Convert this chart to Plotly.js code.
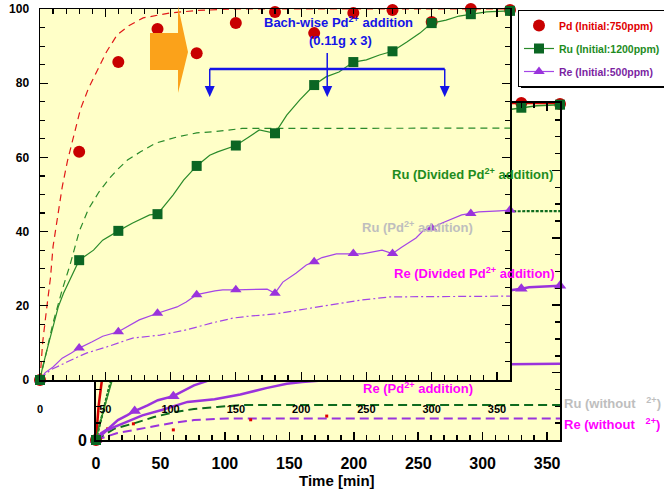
<!DOCTYPE html>
<html><head><meta charset="utf-8">
<script src="https://cdn.plot.ly/plotly-3.0.1.min.js"></script>
<style>html,body{margin:0;padding:0;background:#fff}#chart{width:664px;height:494px}</style>
</head><body><div id="chart"></div>
<script>
// ---------- data ----------
const TIME_TICKS = [0, 50, 100, 150, 200, 250, 300, 350];
const PCT_TICKS = [0, 20, 40, 60, 80, 100];

const SAMPLE_T = [0, 30, 60, 90, 120, 150, 180, 210, 240, 270, 300, 330, 360];
const PD_DIV = [0, 61.5, 85.7, 94.6, 88.1, 96.2, 99.2, 93.5, 98.9, 99.7, 96.5, 100, 99.7];
const RU_DIV = [0, 32.3, 40.2, 44.7, 57.7, 63.2, 66.5, 79.5, 85.7, 88.6, 96.2, 98.6, 99.5];
const RE_DIV = [0, 8.6, 13, 18, 23, 24.3, 23.4, 31.9, 34.1, 34.1, 41, 44.9, 45.8];

const RU_LINE_T = [2, 6, 10, 14, 18, 23, 41, 48, 71, 84, 102, 110, 130, 136, 160, 168, 189, 199, 219, 229, 250, 260, 281, 291, 311, 321, 342];
const RU_LINE_V = [3.5, 9, 14.3, 19.7, 23.4, 27, 35, 37.7, 42.3, 44.5, 49.9, 53.9, 60.6, 61.5, 65.5, 67.4, 71.4, 75.5, 81.7, 83, 86.3, 87.6, 91.1, 93.5, 97, 98.1, 99.2];
const RE_LINE_T = [4, 10, 17, 24, 40, 48, 76, 105, 112, 134, 140, 165, 174, 186, 196, 204, 216, 227, 247, 262, 277, 288, 294, 308, 323, 336, 352];
const RE_LINE_V = [2, 3.5, 5.9, 7.3, 10.3, 11.8, 16.2, 19.7, 21, 24, 24.3, 24.5, 24.5, 26.4, 28.8, 31, 33, 34, 34, 35, 35.8, 38.3, 40.4, 42.3, 44.5, 45.3, 45.6];

const PD_SINGLE_T = [0, 2, 5, 8, 10, 14, 17, 21, 26, 31, 37, 44, 51, 59, 68, 79, 99, 120, 150, 360];
const PD_SINGLE_V = [0, 10, 19, 27.5, 36, 45, 52, 59, 66, 73, 78.5, 83.6, 88.5, 93, 95.5, 97.6, 98.9, 99.6, 100, 100];
const RU_SINGLE_T = [0, 5, 10, 17, 23, 30, 37, 45, 54, 59, 67, 77, 89, 105, 120, 135, 155, 360];
const RU_SINGLE_V = [0, 7.3, 15.4, 24.3, 31, 40, 46, 50.6, 54.7, 56.6, 59.3, 61.5, 63.9, 65.5, 66.6, 67, 67.8, 67.9];
const RE_SINGLE_T = [0, 4, 8, 14, 21, 30, 36, 51, 71, 92, 112, 132, 148, 160, 180, 199, 222, 245, 268, 300, 360];
const RE_SINGLE_V = [0, 1.5, 2.7, 3.8, 4.9, 6.4, 7.3, 8.9, 11.3, 12.1, 13.5, 15.4, 16.7, 17.2, 17.8, 18.9, 20.2, 21.5, 22.4, 22.5, 22.6];

const RU_WITHOUT_T = [0, 14, 30, 45, 61, 76, 94, 113, 360];
const RU_WITHOUT_V = [0, 3.3, 5, 6.8, 8.3, 9.2, 9.8, 10.4, 10.4];
const RE_WITHOUT_T = [0, 16, 30, 43, 58, 76, 102, 360];
const RE_WITHOUT_V = [0, 2, 3, 3.9, 5, 5.9, 6.4, 6.4];
const PD_WITHOUT_T = [9, 29, 60, 120, 179];
const PD_WITHOUT_V = [3.3, 4.8, 3.0, 6.0, 7.1];

const ADDITION_T = [130, 220, 310];

const LEGEND_NAMES = ['Pd (Initial:750ppm)', 'Ru (Initial:1200ppm)', 'Re (Initial:500ppm)'];

// ---------- helpers ----------
const W = 664, H = 494;
const px = x => x / W;
const py = y => 1 - y / H;
const FONT = 'Liberation Sans, Arial, Helvetica, sans-serif';
const YELLOW = '#FFFFC8';
const BLUE = '#1414E6';
const RED = '#C80000', RED_L = '#E01818';
const GREEN = '#0B6623', GREEN_L = '#2A8A2A', GREEN_D = '#0E6B1E';
const PURPLE = '#9A33DC', PURPLE_L = '#A445E6';

const FRONT_X_PX = [40, 510];
const FRONT_RANGE = [0, 360];
const minPerPx = (FRONT_RANGE[1] - FRONT_RANGE[0]) / (FRONT_X_PX[1] - FRONT_X_PX[0]);

function merge(lineT, lineV, markT, markV) {
  const pts = lineT.map((t, i) => ({t, v: lineV[i], m: false}))
    .concat(markT.map((t, i) => ({t, v: markV[i], m: true})));
  pts.sort((a, b) => a.t - b.t || (a.m ? 1 : -1));
  return {x: pts.map(p => p.t), y: pts.map(p => p.v),
          sel: pts.map((p, i) => p.m ? i : -1).filter(i => i >= 0)};
}
const ruM = merge(RU_LINE_T, RU_LINE_V, SAMPLE_T, RU_DIV);
const reM = merge(RE_LINE_T, RE_LINE_V, SAMPLE_T, RE_DIV);

const back = {xaxis: 'x', yaxis: 'y', showlegend: false, hoverinfo: 'skip'};
const front = {xaxis: 'x2', yaxis: 'y2', hoverinfo: 'skip'};

const traces = [
  // back chart
  Object.assign({x: RU_WITHOUT_T, y: RU_WITHOUT_V, mode: 'lines', line: {color: GREEN_D, width: 2, dash: '9px,5px'}}, back),
  Object.assign({x: RE_WITHOUT_T, y: RE_WITHOUT_V, mode: 'lines', line: {color: PURPLE, width: 2, dash: '9px,5px'}}, back),
  Object.assign({x: PD_WITHOUT_T, y: PD_WITHOUT_V, mode: 'markers', marker: {symbol: 'square', size: 3, color: '#E00000'}}, back),
  Object.assign({x: RE_SINGLE_T, y: RE_SINGLE_V, mode: 'lines', line: {color: PURPLE, width: 2.5}}, back),
  Object.assign({x: reM.x, y: reM.y, mode: 'lines+markers', selectedpoints: reM.sel,
    line: {color: PURPLE, width: 2.5}, marker: {symbol: 'triangle-up', size: 11, color: PURPLE},
    unselected: {marker: {opacity: 0}}, cliponaxis: false}, back),
  Object.assign({x: RU_SINGLE_T, y: RU_SINGLE_V, mode: 'lines', line: {color: GREEN_D, width: 2.2, dash: '3px,1.5px'}}, back),
  Object.assign({x: PD_SINGLE_T, y: PD_SINGLE_V, mode: 'lines', line: {color: '#D40000', width: 2.5}}, back),
  Object.assign({x: SAMPLE_T, y: PD_DIV, mode: 'markers', marker: {symbol: 'circle', size: 12, color: RED}, cliponaxis: false}, back),
  Object.assign({x: ruM.x, y: ruM.y, mode: 'lines+markers', selectedpoints: ruM.sel,
    line: {color: GREEN_L, width: 1.5}, marker: {symbol: 'square', size: 10, color: GREEN},
    unselected: {marker: {opacity: 0}}, cliponaxis: false}, back),
  // front chart
  Object.assign({x: PD_SINGLE_T, y: PD_SINGLE_V, mode: 'lines', showlegend: false, line: {color: RED_L, width: 1.2, dash: '7px,5px'}}, front),
  Object.assign({x: RU_SINGLE_T, y: RU_SINGLE_V, mode: 'lines', showlegend: false, line: {color: GREEN_L, width: 1.2, dash: '7px,5px'}}, front),
  Object.assign({x: RE_SINGLE_T, y: RE_SINGLE_V, mode: 'lines', showlegend: false, line: {color: PURPLE_L, width: 1.2, dash: '8px,3px,2px,3px'}}, front),
  Object.assign({x: SAMPLE_T, y: PD_DIV, mode: 'markers', name: '<span style="color:#E00000">' + LEGEND_NAMES[0] + '</span>',
    legendrank: 1, legendgroup: 'pd',
    marker: {symbol: 'circle', size: 12, color: RED}, cliponaxis: false}, front),
  Object.assign({x: reM.x, y: reM.y, mode: 'lines+markers', selectedpoints: reM.sel,
    name: '<span style="color:#7B1FA2">' + LEGEND_NAMES[2] + '</span>', legendrank: 3, legendgroup: 're',
    line: {color: PURPLE_L, width: 1.2}, marker: {symbol: 'triangle-up', size: 10, color: PURPLE},
    unselected: {marker: {opacity: 0}}, cliponaxis: false}, front),
  Object.assign({x: ruM.x, y: ruM.y, mode: 'lines+markers', selectedpoints: ruM.sel,
    name: '<span style="color:#1E8C1E">' + LEGEND_NAMES[1] + '</span>', legendrank: 2, legendgroup: 'ru',
    line: {color: GREEN_L, width: 1.2}, marker: {symbol: 'square', size: 10, color: GREEN},
    unselected: {marker: {opacity: 0}}, cliponaxis: false}, front)
];

function axis(extra) {
  return Object.assign({
    showline: true, linecolor: '#000', mirror: 'ticks', ticks: 'inside', tickcolor: '#000',
    showgrid: false, zeroline: false, fixedrange: true, tickmode: 'array'
  }, extra);
}

const annFont = (size, color) => ({family: FONT, size: size, color: color, weight: 'bold'});
const txt = (x, y, text, size, color, anchor) => ({xref: 'paper', yref: 'paper', x: px(x), y: py(y),
  text: text, showarrow: false, xanchor: anchor || 'center', yanchor: 'middle', font: annFont(size, color)});

const annotations = [
  txt(338, 22, 'Bach-wise Pd<sup>2+</sup> addition', 13, BLUE),
  txt(340, 41, '(0.11g x 3)', 13, BLUE),
  txt(472, 174, 'Ru (Divided Pd<sup>2+</sup> addition)', 13, '#1E8C1E'),
  txt(418, 227, 'Ru (Pd<sup>2+</sup> addition)', 13, '#BEBEBE'),
  txt(474, 273, 'Re (Divided Pd<sup>2+</sup> addition)', 13, '#FF00FF'),
  txt(418, 388, 'Re (Pd<sup>2+</sup> addition)', 13, '#FF00FF'),
  txt(562, 403, 'Ru (without&#160;&#160;&#160;<sup>2+</sup>)', 13, '#BEBEBE', 'left'),
  txt(562, 424, 'Re (without&#160;&#160;&#160;<sup>2+</sup>)', 13, '#FF00FF', 'left'),
  txt(337, 480, 'Time [min]', 15, '#000')
];

const arrowPts = [[150, 33], [178, 33], [178, 6], [188, 52], [178, 93], [178, 70], [150, 70]];
const arrowPath = 'M ' + arrowPts.map(p => px(p[0]).toFixed(5) + ' ' + py(p[1]).toFixed(5)).join(' L ') + ' Z';

const shapes = [
  {type: 'rect', xref: 'x2', yref: 'y2', x0: 0, x1: 360, y0: 0, y1: 100, fillcolor: YELLOW, line: {width: 0}, layer: 'below'},
  {type: 'rect', xref: 'paper', yref: 'paper', x0: px(521), x1: px(667), y0: py(88), y1: py(13), fillcolor: '#000', line: {width: 0}, layer: 'above'},
  {type: 'path', xref: 'paper', yref: 'paper', path: arrowPath, fillcolor: '#FBA21A', line: {width: 0}, layer: 'above'},
  {type: 'line', xref: 'x2', yref: 'paper', x0: ADDITION_T[0], x1: ADDITION_T[2], y0: py(69), y1: py(69), line: {color: BLUE, width: 2.5}, layer: 'above'}
];
// bracket arrows (drop lines + heads)
const headHalf = 5 * minPerPx;
ADDITION_T.forEach((t, i) => {
  shapes.push({type: 'line', xref: 'x2', yref: 'paper', x0: t, x1: t, y0: py(i === 1 ? 53 : 69), y1: py(88),
               line: {color: BLUE, width: 1.5}, layer: 'above'});
  shapes.push({type: 'path', xref: 'x2', yref: 'paper',
               path: 'M ' + (t - headHalf) + ' ' + py(86) + ' L ' + (t + headHalf) + ' ' + py(86) + ' L ' + t + ' ' + py(97) + ' Z',
               fillcolor: BLUE, line: {width: 0}, layer: 'above'});
});

const layout = {
  width: W, height: H,
  margin: {l: 0, r: 0, t: 0, b: 0, autoexpand: false},
  paper_bgcolor: '#fff', plot_bgcolor: YELLOW,
  font: {family: FONT, color: '#000'},
  showlegend: true,
  legend: {x: px(518), y: py(10), xanchor: 'left', yanchor: 'top', bgcolor: '#fff', bordercolor: '#000', borderwidth: 1,
           font: {family: FONT, size: 10.5, weight: 'bold'}, tracegroupgap: 4},
  xaxis: axis({domain: [px(96), px(560)], range: [0, 360], anchor: 'y', linewidth: 2,
    tickvals: TIME_TICKS, ticktext: TIME_TICKS.map(String), ticklen: 8, tickwidth: 1.5,
    minor: {tick0: 0, dtick: 10, ticklen: 5, tickwidth: 1.5, ticks: 'inside', tickcolor: '#000'},
    tickfont: {family: FONT, size: 16, weight: 'bold', color: '#000'}, ticklabelstandoff: 8}),
  yaxis: axis({domain: [py(440), py(103)], range: [0, 100], anchor: 'x', linewidth: 2,
    tickvals: PCT_TICKS, ticktext: PCT_TICKS.map(String), ticklen: 8, tickwidth: 1.5,
    minor: {tick0: 0, dtick: 5, ticklen: 5, tickwidth: 1.5, ticks: 'inside', tickcolor: '#000'},
    tickfont: {family: FONT, size: 16, weight: 'bold', color: '#000'}, ticklabelstandoff: 4}),
  xaxis2: axis({domain: [px(FRONT_X_PX[0]), px(FRONT_X_PX[1])], range: FRONT_RANGE, anchor: 'y2', linewidth: 1.5,
    tickvals: TIME_TICKS, ticktext: TIME_TICKS.map(String), ticklen: 8, tickwidth: 1.2,
    minor: {tick0: 0, dtick: 10, ticklen: 5, tickwidth: 1.2, ticks: 'inside', tickcolor: '#000'},
    tickfont: {family: FONT, size: 11, weight: 'bold', color: '#000'}, ticklabelstandoff: 18}),
  yaxis2: axis({domain: [py(380), py(9)], range: [0, 100], anchor: 'x2', linewidth: 1.5,
    tickvals: PCT_TICKS, ticktext: PCT_TICKS.map(String), ticklen: 8, tickwidth: 1.2,
    minor: {tick0: 0, dtick: 5, ticklen: 5, tickwidth: 1.2, ticks: 'inside', tickcolor: '#000'},
    tickfont: {family: FONT, size: 12, weight: 'bold', color: '#000'}, ticklabelstandoff: 7}),
  shapes: shapes,
  annotations: annotations
};

Plotly.newPlot('chart', traces, layout, {staticPlot: true, displayModeBar: false});
</script>
</body></html>
